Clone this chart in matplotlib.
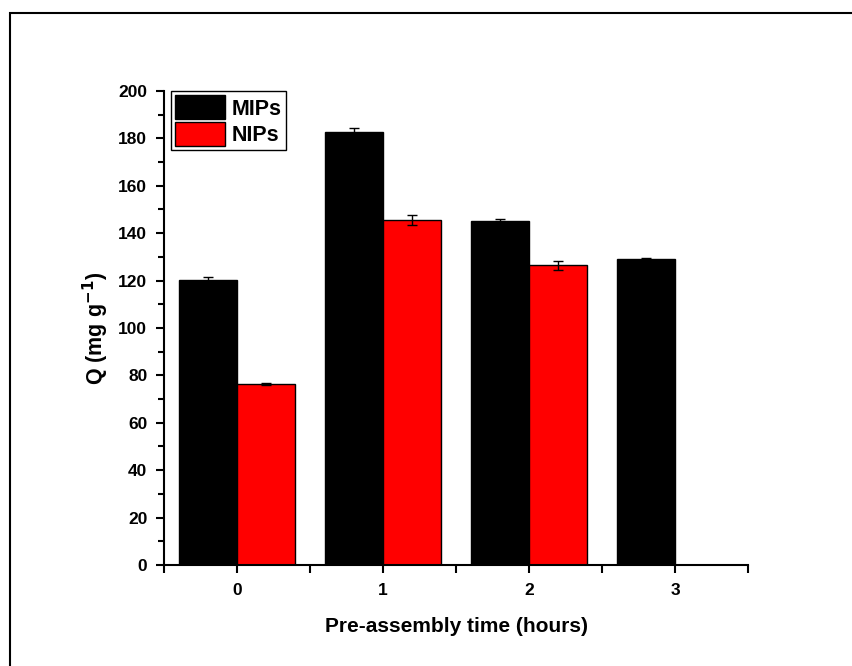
import matplotlib.pyplot as plt
import matplotlib.patches as patches
import numpy as np

plt.rcParams['font.family'] = ['Liberation Sans', 'DejaVu Sans']
plt.rcParams['font.weight'] = 'bold'

hours = [0, 1, 2, 3]
mips = [120.3, 182.5, 145.3, 129.1]
mips_err = [1.0, 2.0, 0.5, 0.5]
nips = [76.3, 145.5, 126.4, 0]
nips_err = [0.3, 2.0, 2.0, 0]

fig = plt.figure(figsize=(8.52, 6.66), dpi=100)
ax = fig.add_axes([0.1925, 0.1517, 0.6855, 0.7117])

# outer frame around the whole figure
fig.patches.append(patches.Rectangle((10 / 852, -0.05), 1.0, 1 - 13 / 666 + 0.05,
                                     transform=fig.transFigure, fill=False,
                                     edgecolor='black', linewidth=1.5))

x = np.array(hours)
w = 0.4
ax.bar(x - w / 2, mips, width=w, color='black', edgecolor='black', linewidth=1,
       label='MIPs', yerr=mips_err, capsize=3.5,
       error_kw=dict(ecolor='black', elinewidth=1, capthick=1))
nips_shown = [v if v > 0 else np.nan for v in nips]
ax.bar(x + w / 2, nips_shown, width=w, color='red', edgecolor='black', linewidth=1,
       label='NIPs', yerr=nips_err, capsize=3.5,
       error_kw=dict(ecolor='black', elinewidth=1, capthick=1))

ax.set_xlim(-0.5, 3.5)
ax.set_ylim(0, 200)
ax.set_xticks(hours)
ax.set_xticks(np.arange(-0.5, 3.6, 1.0), minor=True)
ax.set_yticks(np.arange(0, 201, 20))
ax.set_yticks(np.arange(0, 201, 10), minor=True)

ax.spines['top'].set_visible(False)
ax.spines['right'].set_visible(False)
for s in ['left', 'bottom']:
    ax.spines[s].set_linewidth(1.5)

ax.tick_params(which='major', direction='out', length=6, width=1.5, labelsize=12.5)
ax.tick_params(axis='y', which='major', pad=6)
ax.tick_params(axis='x', which='major', pad=7)
ax.tick_params(which='minor', direction='out', length=4, width=1.5)
ax.tick_params(axis='x', which='minor', length=6)
for lab in ax.get_xticklabels() + ax.get_yticklabels():
    lab.set_fontweight('bold')

ax.set_xlabel('Pre-assembly time (hours)', fontsize=15, fontweight='bold', labelpad=14)
ax.set_ylabel('Q (mg g$^{\\mathbf{-1}}$)', fontsize=15.5, fontweight='bold', labelpad=5)

leg = ax.legend(loc='upper left', bbox_to_anchor=(0.012, 1.0), borderaxespad=0,
                fontsize=15.5, handlelength=2.3, handleheight=1.35,
                handletextpad=0.3, borderpad=0.2, labelspacing=0.1,
                fancybox=False, edgecolor='black', framealpha=1)
leg.get_frame().set_linewidth(1)
for t in leg.get_texts():
    t.set_fontweight('bold')

plt.savefig('out.png', dpi=100)
